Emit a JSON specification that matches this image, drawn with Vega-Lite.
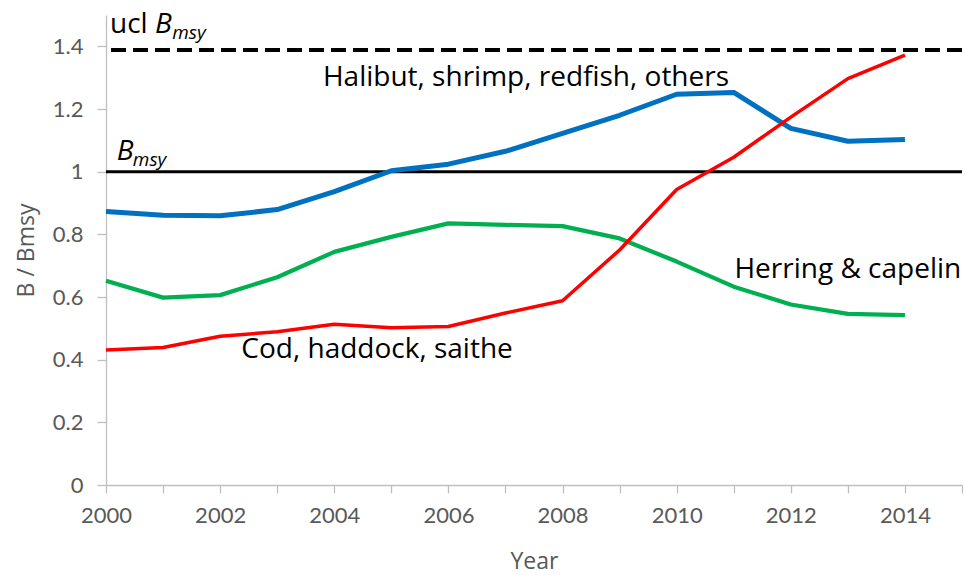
{
  "$schema": "https://vega.github.io/schema/vega-lite/v6.json",
  "width": 856,
  "height": 470,
  "autosize": {"type": "none"},
  "padding": {"left": 106, "top": 15, "right": 3, "bottom": 90},
  "background": "white",
  "config": {
    "view": {"stroke": null},
    "font": "Lato",
    "axis": {"grid": false, "domainColor": "#bfbfbf", "tickColor": "#bfbfbf", "domainWidth": 1.3, "tickWidth": 1.3, "labelColor": "#595959", "titleColor": "#595959", "labelFont": "Lato", "titleFont": "Open Sans", "labelFontSize": 22, "titleFontSize": 23, "titleFontWeight": "normal"}
  },
  "datasets": {
    "series": [
      {"year": 2000, "group": "Halibut, shrimp, redfish, others", "value": 0.873},
      {"year": 2001, "group": "Halibut, shrimp, redfish, others", "value": 0.861},
      {"year": 2002, "group": "Halibut, shrimp, redfish, others", "value": 0.859},
      {"year": 2003, "group": "Halibut, shrimp, redfish, others", "value": 0.879},
      {"year": 2004, "group": "Halibut, shrimp, redfish, others", "value": 0.936},
      {"year": 2005, "group": "Halibut, shrimp, redfish, others", "value": 1.003},
      {"year": 2006, "group": "Halibut, shrimp, redfish, others", "value": 1.024},
      {"year": 2007, "group": "Halibut, shrimp, redfish, others", "value": 1.065},
      {"year": 2008, "group": "Halibut, shrimp, redfish, others", "value": 1.122},
      {"year": 2009, "group": "Halibut, shrimp, redfish, others", "value": 1.180},
      {"year": 2010, "group": "Halibut, shrimp, redfish, others", "value": 1.247},
      {"year": 2011, "group": "Halibut, shrimp, redfish, others", "value": 1.253},
      {"year": 2012, "group": "Halibut, shrimp, redfish, others", "value": 1.138},
      {"year": 2013, "group": "Halibut, shrimp, redfish, others", "value": 1.097},
      {"year": 2014, "group": "Halibut, shrimp, redfish, others", "value": 1.103},
      {"year": 2000, "group": "Herring & capelin", "value": 0.652},
      {"year": 2001, "group": "Herring & capelin", "value": 0.598},
      {"year": 2002, "group": "Herring & capelin", "value": 0.606},
      {"year": 2003, "group": "Herring & capelin", "value": 0.663},
      {"year": 2004, "group": "Herring & capelin", "value": 0.744},
      {"year": 2005, "group": "Herring & capelin", "value": 0.792},
      {"year": 2006, "group": "Herring & capelin", "value": 0.835},
      {"year": 2007, "group": "Herring & capelin", "value": 0.830},
      {"year": 2008, "group": "Herring & capelin", "value": 0.826},
      {"year": 2009, "group": "Herring & capelin", "value": 0.787},
      {"year": 2010, "group": "Herring & capelin", "value": 0.713},
      {"year": 2011, "group": "Herring & capelin", "value": 0.633},
      {"year": 2012, "group": "Herring & capelin", "value": 0.576},
      {"year": 2013, "group": "Herring & capelin", "value": 0.546},
      {"year": 2014, "group": "Herring & capelin", "value": 0.542},
      {"year": 2000, "group": "Cod, haddock, saithe", "value": 0.431},
      {"year": 2001, "group": "Cod, haddock, saithe", "value": 0.439},
      {"year": 2002, "group": "Cod, haddock, saithe", "value": 0.475},
      {"year": 2003, "group": "Cod, haddock, saithe", "value": 0.489},
      {"year": 2004, "group": "Cod, haddock, saithe", "value": 0.513},
      {"year": 2005, "group": "Cod, haddock, saithe", "value": 0.502},
      {"year": 2006, "group": "Cod, haddock, saithe", "value": 0.506},
      {"year": 2007, "group": "Cod, haddock, saithe", "value": 0.549},
      {"year": 2008, "group": "Cod, haddock, saithe", "value": 0.588},
      {"year": 2009, "group": "Cod, haddock, saithe", "value": 0.750},
      {"year": 2010, "group": "Cod, haddock, saithe", "value": 0.943},
      {"year": 2011, "group": "Cod, haddock, saithe", "value": 1.046},
      {"year": 2012, "group": "Cod, haddock, saithe", "value": 1.174},
      {"year": 2013, "group": "Cod, haddock, saithe", "value": 1.297},
      {"year": 2014, "group": "Cod, haddock, saithe", "value": 1.372}
    ],
    "refs": [
      {"name": "Bmsy", "value": 1.0},
      {"name": "ucl Bmsy", "value": 1.388}
    ],
    "seriesLabels": [
      {"text": "Halibut, shrimp, redfish, others", "year": 2007.36, "value": 1.298},
      {"text": "Herring & capelin", "year": 2013.0, "value": 0.686},
      {"text": "Cod, haddock, saithe", "year": 2004.75, "value": 0.431}
    ],
    "plainLabels": [
      {"text": "ucl", "year": 2000.07, "value": 1.442}
    ],
    "italicLabels": [
      {"text": "B", "year": 2000.86, "value": 1.442},
      {"text": "B", "year": 2000.19, "value": 1.037}
    ],
    "subLabels": [
      {"text": "msy", "year": 2001.16, "value": 1.423},
      {"text": "msy", "year": 2000.47, "value": 1.018}
    ]
  },
  "layer": [
    {
      "data": {"name": "refs"},
      "transform": [{"filter": "datum.name === 'Bmsy'"}],
      "mark": {"type": "rule", "color": "black", "strokeWidth": 3},
      "encoding": {"y": {"field": "value", "type": "quantitative", "scale": {"domain": [0, 1.5]}}}
    },
    {
      "data": {"name": "refs"},
      "transform": [{"filter": "datum.name === 'ucl Bmsy'"}],
      "mark": {"type": "rule", "color": "black", "strokeWidth": 4, "strokeDash": [15, 7]},
      "encoding": {"y": {"field": "value", "type": "quantitative"}}
    },
    {
      "data": {"name": "series"},
      "mark": {"type": "line", "strokeJoin": "round", "strokeCap": "butt"},
      "encoding": {
        "x": {
          "field": "year", "type": "quantitative",
          "scale": {"domain": [2000, 2015], "nice": false, "zero": false},
          "axis": {
            "title": "Year",
            "values": [2000, 2001, 2002, 2003, 2004, 2005, 2006, 2007, 2008, 2009, 2010, 2011, 2012, 2013, 2014, 2015],
            "labelExpr": "datum.value % 2 == 0 && datum.value < 2015 ? format(datum.value, 'd') : ''",
            "labelFlush": false,
            "tickSize": 8, "labelPadding": 12, "titlePadding": 24
          }
        },
        "y": {
          "field": "value", "type": "quantitative",
          "scale": {"domain": [0, 1.5], "nice": false},
          "axis": {
            "title": "B / Bmsy",
            "values": [0, 0.1, 0.2, 0.3, 0.4, 0.5, 0.6, 0.7, 0.8, 0.9, 1.0, 1.1, 1.2, 1.3, 1.4, 1.5],
            "labelExpr": "(round(datum.value * 10) % 2 == 0 && datum.value < 1.45) ? format(datum.value, '~g') : ''",
            "labelFlush": false,
            "tickSize": 9, "labelPadding": 14, "titlePadding": 14
          }
        },
        "color": {
          "field": "group", "type": "nominal",
          "scale": {"domain": ["Halibut, shrimp, redfish, others", "Herring & capelin", "Cod, haddock, saithe"], "range": ["#0070C0", "#00B050", "#FF0000"]},
          "legend": null
        },
        "strokeWidth": {
          "field": "group", "type": "nominal",
          "scale": {"domain": ["Halibut, shrimp, redfish, others", "Herring & capelin", "Cod, haddock, saithe"], "range": [5, 3.5, 3.5]},
          "legend": null
        },
        "order": {"field": "year", "type": "quantitative"}
      }
    },
    {
      "data": {"name": "seriesLabels"},
      "mark": {"type": "text", "font": "Open Sans", "fontSize": 28, "color": "black", "align": "center", "baseline": "middle"},
      "encoding": {
        "x": {"field": "year", "type": "quantitative"},
        "y": {"field": "value", "type": "quantitative"},
        "text": {"field": "text"}
      }
    },
    {
      "data": {"name": "plainLabels"},
      "mark": {"type": "text", "font": "Open Sans", "fontSize": 28, "color": "black", "align": "left", "baseline": "alphabetic"},
      "encoding": {
        "x": {"field": "year", "type": "quantitative"},
        "y": {"field": "value", "type": "quantitative"},
        "text": {"field": "text"}
      }
    },
    {
      "data": {"name": "italicLabels"},
      "mark": {"type": "text", "font": "Open Sans", "fontSize": 28, "fontStyle": "italic", "color": "black", "align": "left", "baseline": "alphabetic"},
      "encoding": {
        "x": {"field": "year", "type": "quantitative"},
        "y": {"field": "value", "type": "quantitative"},
        "text": {"field": "text"}
      }
    },
    {
      "data": {"name": "subLabels"},
      "mark": {"type": "text", "font": "Open Sans", "fontSize": 19, "fontStyle": "italic", "color": "black", "align": "left", "baseline": "alphabetic"},
      "encoding": {
        "x": {"field": "year", "type": "quantitative"},
        "y": {"field": "value", "type": "quantitative"},
        "text": {"field": "text"}
      }
    }
  ]
}
